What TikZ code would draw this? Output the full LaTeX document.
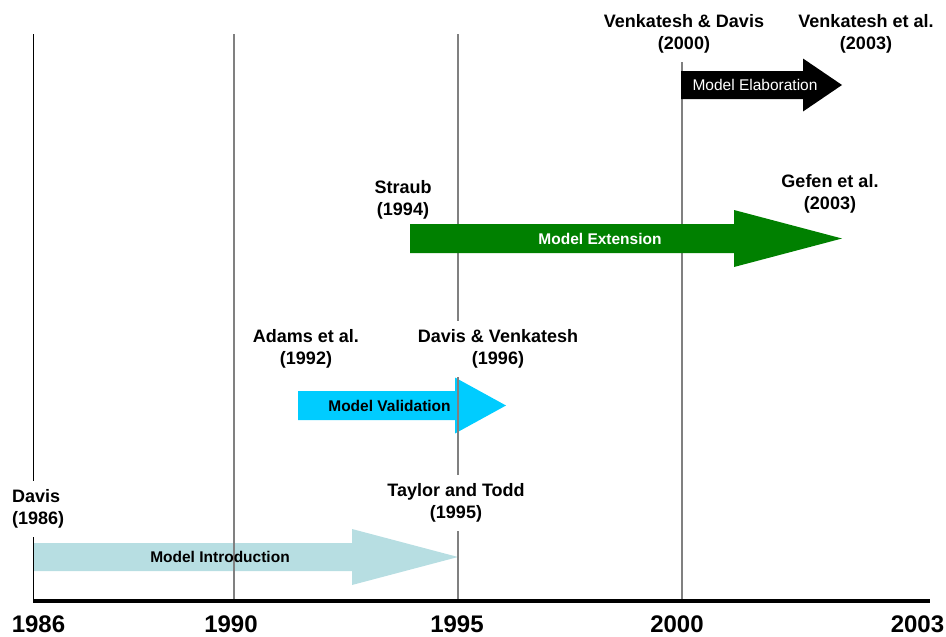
\documentclass[tikz,border=0pt]{standalone}
\usepackage{fontspec}
\setmainfont{Liberation Sans}
\definecolor{introblue}{RGB}{183,222,226}
\definecolor{validblue}{RGB}{0,204,255}
\definecolor{extgreen}{RGB}{0,128,0}
\definecolor{gridgray}{RGB}{128,128,128}

\begin{document}
\begin{tikzpicture}[x=1pt,y=-1pt]
   \useasboundingbox (0,0) rectangle (946,637);
   \tikzstyle{who}=[fill=white, align=center, inner xsep=3pt, inner ysep=9pt, font=\fontsize{18}{22}\selectfont\bfseries]
   \tikzstyle{phase}=[inner sep=1pt, font=\fontsize{15.5}{18}\selectfont\bfseries]
   \tikzstyle{yearlbl}=[anchor=base, inner sep=0pt, font=\fontsize{24}{28}\selectfont\bfseries]
   % first two phases, the year lines run over them
   \foreach \xa/\xb/\xc/\ym/\hs/\hh/\col in {33/352/458/557/14/28/introblue, 298/455/506/405.5/14.5/28/validblue} {
       \fill[\col] (\xa,{\ym-\hs}) -- (\xb,{\ym-\hs}) -- (\xb,{\ym-\hh}) -- (\xc,\ym)
           -- (\xb,{\ym+\hh}) -- (\xb,{\ym+\hs}) -- (\xa,{\ym+\hs}) -- cycle;
   }
   \foreach \yr/\x/\col/\w in {1986/33/black/1, 1990/234/gridgray/2, 1995/458/gridgray/2, 2000/682/gridgray/2} {
       \coordinate (top\yr) at (\x,34);
       \coordinate (foot\yr) at (\x,600);
       \draw[\col, line width=\w pt] (top\yr) -- (foot\yr);
   }
   \coordinate (axisL) at (33,601);
   \coordinate (axisR) at (930,601);
   \draw[line width=4pt] (axisL) -- (axisR);
   % authors
   \node[who, anchor=west, align=left] (davis86) at (9,509) {Davis\\(1986)};
   \node[who] (taylor95) at (456,503) {Taylor and Todd\\(1995)};
   \node[who] (adams92) at (306,349) {Adams et al.\\(1992)};
   \node[who] (davis96) at (498,349) {Davis \& Venkatesh\\(1996)};
   \node[who] (straub94) at (403,200) {Straub\\(1994)};
   \node[who] (gefen03) at (830,194) {Gefen et al.\\(2003)};
   \node[who] (venk00) at (684,34) {Venkatesh \& Davis\\(2000)};
   \node[who] (venk03) at (866,34) {Venkatesh et al.\\(2003)};
   % later phases cover the lines
   \foreach \xa/\xb/\xc/\ym/\hs/\hh/\col in {410/734/842/238.5/14.5/28.5/extgreen, 681/803/842/85/14/26.5/black} {
       \fill[\col] (\xa,{\ym-\hs}) -- (\xb,{\ym-\hs}) -- (\xb,{\ym-\hh}) -- (\xc,\ym)
           -- (\xb,{\ym+\hh}) -- (\xb,{\ym+\hs}) -- (\xa,{\ym+\hs}) -- cycle;
   }
   \node[phase] (intro) at (220,557) {Model Introduction};
   \node[phase] (valid) at (389.5,406) {Model Validation};
   \node[phase, text=white] (ext) at (600,239) {Model Extension};
   \node[phase, text=white, font=\fontsize{15.5}{18}\selectfont] (elab) at (755,85) {Model Elaboration};
   \foreach \yr/\x in {1986/38.5, 1990/231, 1995/457, 2000/677, 2003/917.5}
       \node[yearlbl] (yr\yr) at (\x,632) {\yr};
\end{tikzpicture}
\end{document}
